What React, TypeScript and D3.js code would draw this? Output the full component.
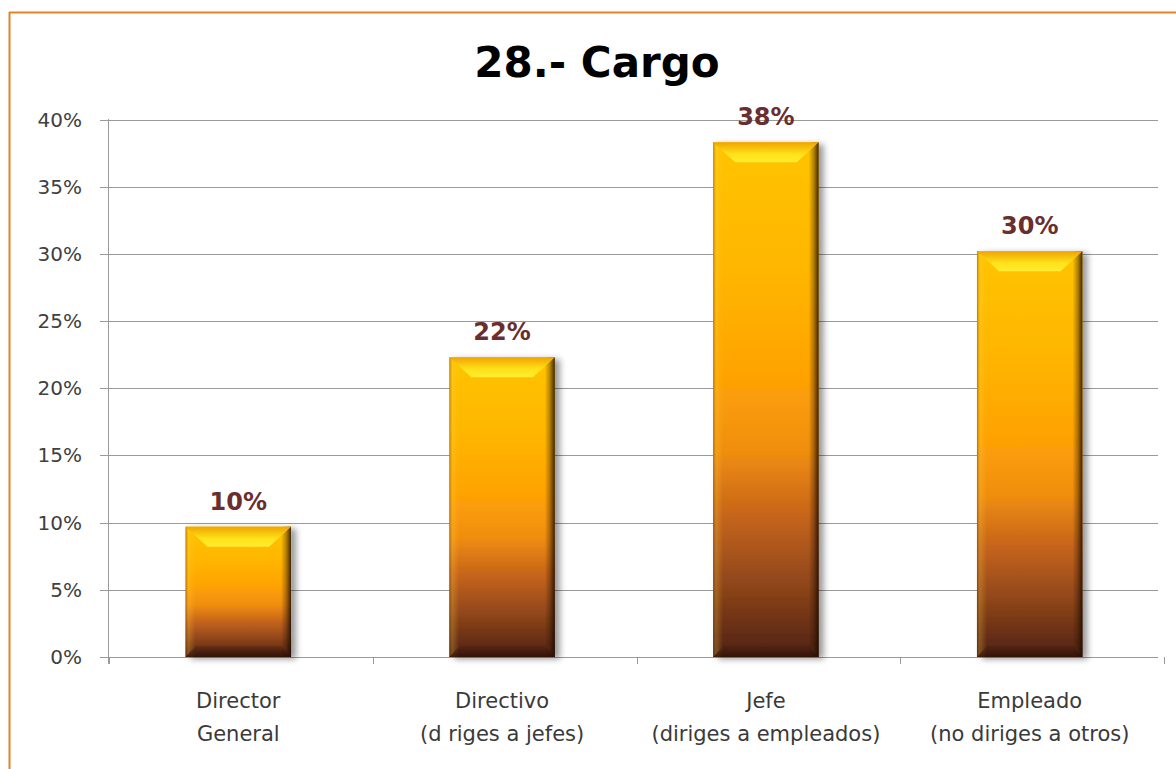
import React from "react";
import * as d3 from "d3";

const categories = ["Director General", "Directivo (dirige a jefes)", "Jefe", "Empleado"];
const labelLines: string[][] = [
  ["Director", "General"],
  ["Directivo", "(d riges a jefes)"],
  ["Jefe", "(diriges a empleados)"],
  ["Empleado", "(no diriges a otros)"],
];
const values = [9.7, 22.3, 38.3, 30.2];
const valueLabels = ["10%", "22%", "38%", "30%"];
const yTicks = [0, 5, 10, 15, 20, 25, 30, 35, 40];
const title = "28.- Cargo";

const W = 1176;
const H = 769;
const FONT = "'DejaVu Sans', Verdana, sans-serif";

export default function App() {
  const x = d3
    .scaleBand<string>()
    .domain(categories)
    .range([109, 1159])
    .paddingInner(0.6)
    .paddingOuter(0.29);
  const y = d3.scaleLinear().domain([0, 40]).range([657, 119.5]);
  const step = x.step();
  const boundaries = d3.range(categories.length + 1).map((i) => 109 + i * step);

  return (
    <svg
      width={W}
      height={H}
      style={{ position: "absolute", left: 0, top: 0, display: "block", background: "#fff" }}
    >
      <defs>
        <linearGradient id="face" x1="0" y1="0" x2="0" y2="1">
          <stop offset="0" stopColor="#FFC400" />
          <stop offset="0.25" stopColor="#FFB600" />
          <stop offset="0.45" stopColor="#FFA304" />
          <stop offset="0.6" stopColor="#F08E10" />
          <stop offset="0.72" stopColor="#C8661A" />
          <stop offset="0.85" stopColor="#93481A" />
          <stop offset="0.94" stopColor="#6A3016" />
          <stop offset="1" stopColor="#4E2212" />
        </linearGradient>
        <linearGradient id="topBevel" x1="0" y1="0" x2="0" y2="1">
          <stop offset="0" stopColor="#F0A400" />
          <stop offset="0.6" stopColor="#FFE21A" />
          <stop offset="1" stopColor="#FFEC30" />
        </linearGradient>
        <linearGradient id="rightBevel" x1="0" y1="0" x2="1" y2="0">
          <stop offset="0" stopColor="#2a1400" stopOpacity="0" />
          <stop offset="0.5" stopColor="#2a1400" stopOpacity="0.35" />
          <stop offset="1" stopColor="#1a0a00" stopOpacity="0.85" />
        </linearGradient>
        <linearGradient id="leftBevel" x1="0" y1="0" x2="1" y2="0">
          <stop offset="0" stopColor="#5a3000" stopOpacity="0.45" />
          <stop offset="0.3" stopColor="#FFD040" stopOpacity="0.25" />
          <stop offset="1" stopColor="#FFD040" stopOpacity="0" />
        </linearGradient>
        <linearGradient id="bottomBevel" x1="0" y1="0" x2="0" y2="1">
          <stop offset="0" stopColor="#3a1608" stopOpacity="0.2" />
          <stop offset="1" stopColor="#2a0e04" stopOpacity="0.75" />
        </linearGradient>
        <filter id="shadow" x="-20%" y="-10%" width="150%" height="120%">
          <feDropShadow dx="5" dy="2" stdDeviation="3" floodColor="#000" floodOpacity="0.4" />
        </filter>
      </defs>

      <rect x={0} y={0} width={W} height={H} fill="#fff" />
      {/* outer chart border (top & left visible) */}
      <line x1={9} x2={W} y1={12.5} y2={12.5} stroke="#E2832C" strokeWidth={2} />
      <line x1={9.5} x2={9.5} y1={12} y2={H} stroke="#E2832C" strokeWidth={2} />

      <text
        x={597}
        y={77}
        textAnchor="middle"
        fontFamily={FONT}
        fontWeight="bold"
        fontSize={42}
        fill="#000"
      >
        {title}
      </text>

      {/* gridlines and y ticks */}
      {yTicks.map((t) => (
        <g key={t}>
          <line x1={100} x2={1158} y1={Math.round(y(t)) + 0.5} y2={Math.round(y(t)) + 0.5} stroke="#9a9a9a" strokeWidth={1} />
          <text
            x={82}
            y={y(t) + 7}
            textAnchor="end"
            fontFamily={FONT}
            fontSize={20}
            fill="#404040"
          >
            {t + "%"}
          </text>
        </g>
      ))}
      {/* y axis */}
      <line x1={108.5} x2={108.5} y1={119} y2={664} stroke="#9a9a9a" strokeWidth={1} />
      {/* x ticks */}
      {boundaries.map((b, i) => (
        <line key={i} x1={Math.round(b) + 0.5} x2={Math.round(b) + 0.5} y1={657} y2={664} stroke="#9a9a9a" strokeWidth={1} />
      ))}

      {/* bars */}
      {categories.map((c, i) => {
        const x0 = x(c)!;
        const bw = x.bandwidth();
        const x1 = x0 + bw;
        const y0 = y(values[i]);
        const y1 = y(0);
        const tb = 20;
        const ti = 22;
        const sb = 10;
        const bb = 11;
        return (
          <g key={c}>
            <g filter="url(#shadow)">
              <rect x={x0} y={y0} width={bw} height={y1 - y0} fill="url(#face)" />
            </g>
            <rect x={x0} y={y0} width={sb} height={y1 - y0} fill="url(#leftBevel)" />
            <rect x={x1 - sb} y={y0} width={sb} height={y1 - y0} fill="url(#rightBevel)" />
            <polygon
              points={`${x0},${y1} ${x1},${y1} ${x1 - sb},${y1 - bb} ${x0 + sb},${y1 - bb}`}
              fill="url(#bottomBevel)"
            />
            <polygon
              points={`${x0},${y0} ${x1},${y0} ${x1 - ti},${y0 + tb} ${x0 + ti},${y0 + tb}`}
              fill="url(#topBevel)"
            />
            <text
              x={x0 + bw / 2}
              y={y0 - 17}
              textAnchor="middle"
              fontFamily={FONT}
              fontWeight="bold"
              fontSize={24}
              fill="#6A2E2E"
            >
              {valueLabels[i]}
            </text>
          </g>
        );
      })}

      {/* category labels */}
      {categories.map((c, i) => (
        <text
          key={c}
          x={x(c)! + x.bandwidth() / 2}
          textAnchor="middle"
          fontFamily={FONT}
          fontSize={21}
          fill="#3a3a3a"
        >
          {labelLines[i].map((ln, j) => (
            <tspan key={j} x={x(c)! + x.bandwidth() / 2} y={708 + j * 33}>
              {ln}
            </tspan>
          ))}
        </text>
      ))}
    </svg>
  );
}
